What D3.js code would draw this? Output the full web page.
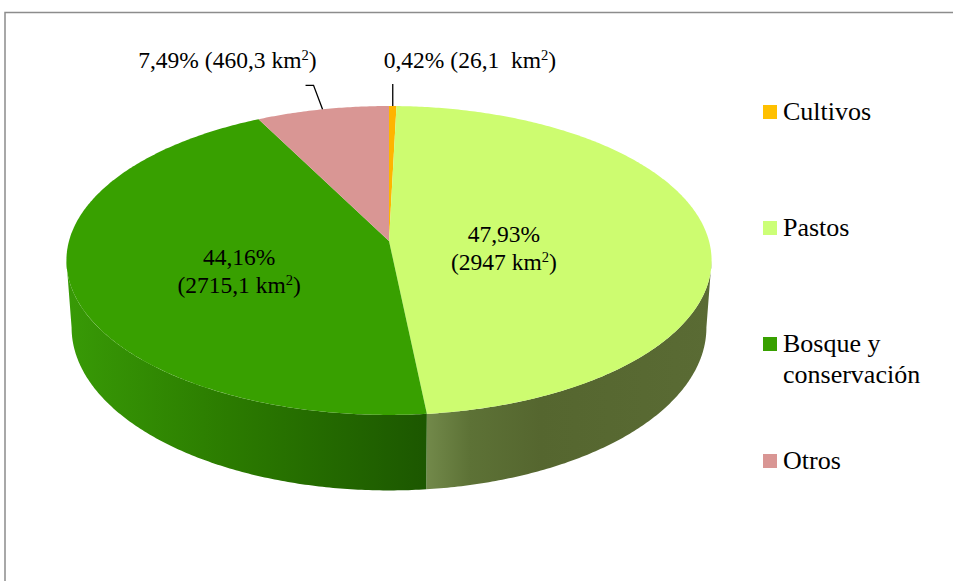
<!DOCTYPE html>
<html>
<head>
<meta charset="utf-8">
<script src="https://cdn.jsdelivr.net/npm/d3@7/dist/d3.min.js"></script>
<style>
  html, body { margin: 0; padding: 0; background: #fff; }
  svg text, svg tspan { font-family: 'Liberation Serif', 'Tinos', 'Times New Roman', serif !important; }
</style>
</head>
<body>
<script>
// data
const categories = ['Cultivos', 'Pastos', 'Bosque y conservación', 'Otros'];
const percents = [0.42, 47.93, 44.16, 7.49];
const areas = ['26,1\u00a0', '2947', '2715,1', '460,3'];
const legendLines = [['Cultivos'], ['Pastos'], ['Bosque y', 'conservación'], ['Otros']];
const topColors = ['#ffb400', '#cdfc70', '#38a000', '#d99694'];
const legendColors = ['#ffc000', '#ccff77', '#38a000', '#d99694'];

const width = 953, height = 581;
const serif = "'Liberation Serif'";

const svg = d3.select('body').append('svg')
    .attr('width', width)
    .attr('height', height)
    .style('display', 'block');

// chart frame
svg.append('rect')
    .attr('x', 5).attr('y', 12.5)
    .attr('width', 1000).attr('height', 700)
    .attr('fill', 'none')
    .attr('stroke', '#8c8c8c')
    .attr('stroke-width', 1.5);

// 3D pie projection (simple perspective)
const cx = 389, cy = 241;
const R = 320, Ry = 152, depth = 66, persp = 0.126;

function proj(theta, r, h) {
    const X = Math.sin(theta) * r, Z = Math.cos(theta) * r;
    const s = 1 / (1 + persp * Z);
    return [cx + R * X * s * (1 - 0.016 * h), cy - Ry * Z * s + h * depth * s];
}

const pie = d3.pie().sort(null).value(d => d);
const arcs = pie(percents);
const line = d3.line();

function arcPoints(a0, a1, r, h) {
    const n = Math.max(2, Math.ceil((a1 - a0) / 0.01));
    return d3.range(n + 1).map(i => proj(a0 + (a1 - a0) * i / n, r, h));
}

// side wall gradients
const defs = svg.append('defs');
const wallStops = [
    [],
    [[0, '#72894a'], [0.15, '#5d7236'], [0.4, '#55662f'], [1, '#5a6b34']],
    [[0, '#389a06'], [0.45, '#2b7b00'], [1, '#1c5700']],
    []
];

const thetaSil = Math.acos(-persp);
const walls = svg.append('g');
arcs.forEach((d, i) => {
    const a0 = Math.max(d.startAngle, thetaSil);
    const a1 = Math.min(d.endAngle, 2 * Math.PI - thetaSil);
    if (a1 <= a0) return;
    const top = arcPoints(a0, a1, 1, 0);
    const bottom = arcPoints(a0, a1, 1, 1).reverse();
    const xs = top.map(p => p[0]);
    const g = defs.append('linearGradient')
        .attr('id', 'wall' + i)
        .attr('gradientUnits', 'userSpaceOnUse')
        .attr('x1', d3.min(xs)).attr('x2', d3.max(xs))
        .attr('y1', 0).attr('y2', 0);
    (wallStops[i].length ? wallStops[i] : [[0, topColors[i]], [1, topColors[i]]]).forEach(s => {
        g.append('stop').attr('offset', s[0]).attr('stop-color', s[1]);
    });
    walls.append('path')
        .attr('d', line(top.concat(bottom)) + 'Z')
        .attr('fill', `url(#wall${i})`);
});

// top faces
const tops = svg.append('g');
arcs.forEach((d, i) => {
    const pts = [proj(0, 0, 0)].concat(arcPoints(d.startAngle, d.endAngle, 1, 0));
    tops.append('path')
        .attr('d', line(pts) + 'Z')
        .attr('fill', topColors[i]);
});

const fmtPct = v => d3.format('.2f')(v).replace('.', ',') + '%';

function areaText(sel, area) {
    sel.append('tspan').text('(' + area + ' km');
    sel.append('tspan').attr('font-size', '0.62em').attr('dy', '-0.55em').text('2');
    sel.append('tspan').attr('dy', '0.34em').text(')');
}

function addText(x, y, size, anchor) {
    return svg.append('text')
        .attr('x', x).attr('y', y)
        .attr('text-anchor', anchor)
        .attr('font-family', serif)
        .attr('font-size', size)
        .attr('fill', '#000');
}

// labels inside the two big slices
const insideR = {1: 0.36, 2: 0.48};
Object.keys(insideR).forEach(k => {
    const i = +k, d = arcs[i];
    const mid = (d.startAngle + d.endAngle) / 2;
    const p = proj(mid, insideR[k], 0);
    addText(p[0], p[1] + 3, 23.5, 'middle').text(fmtPct(percents[i]));
    areaText(addText(p[0], p[1] + 31, 23.5, 'middle'), areas[i]);
});

// outside labels with leader lines
function outsideLabel(i, elbowDx, elbowDy, endDx, anchor, textDx, textDy) {
    const d = arcs[i];
    const mid = (d.startAngle + d.endAngle) / 2;
    const e = proj(mid, 1, 0);
    const elbow = [e[0] + elbowDx, e[1] + elbowDy];
    const end = [elbow[0] + endDx, elbow[1]];
    svg.append('path')
        .attr('d', line([e, elbow, end]))
        .attr('fill', 'none')
        .attr('stroke', '#000')
        .attr('stroke-width', 1.3);
    const t = addText(end[0] + textDx, end[1] + textDy, 23.5, anchor);
    t.append('tspan').text(fmtPct(percents[i]) + ' ');
    areaText(t, areas[i]);
}
outsideLabel(3, -9, -24, -8, 'end', 11, -17);
outsideLabel(0, 0, -22, 0, 'start', -9, -16);

// legend
const legendY = [105, 221, 337, 454];
categories.forEach((c, i) => {
    svg.append('rect')
        .attr('x', 763).attr('y', legendY[i])
        .attr('width', 14).attr('height', 14)
        .attr('fill', legendColors[i]);
    const t = addText(783, legendY[i] + 15, 26, 'start');
    legendLines[i].forEach((l, j) => {
        t.append('tspan').attr('x', 783).attr('dy', j ? 31 : 0).text(l);
    });
});
</script>
</body>
</html>
